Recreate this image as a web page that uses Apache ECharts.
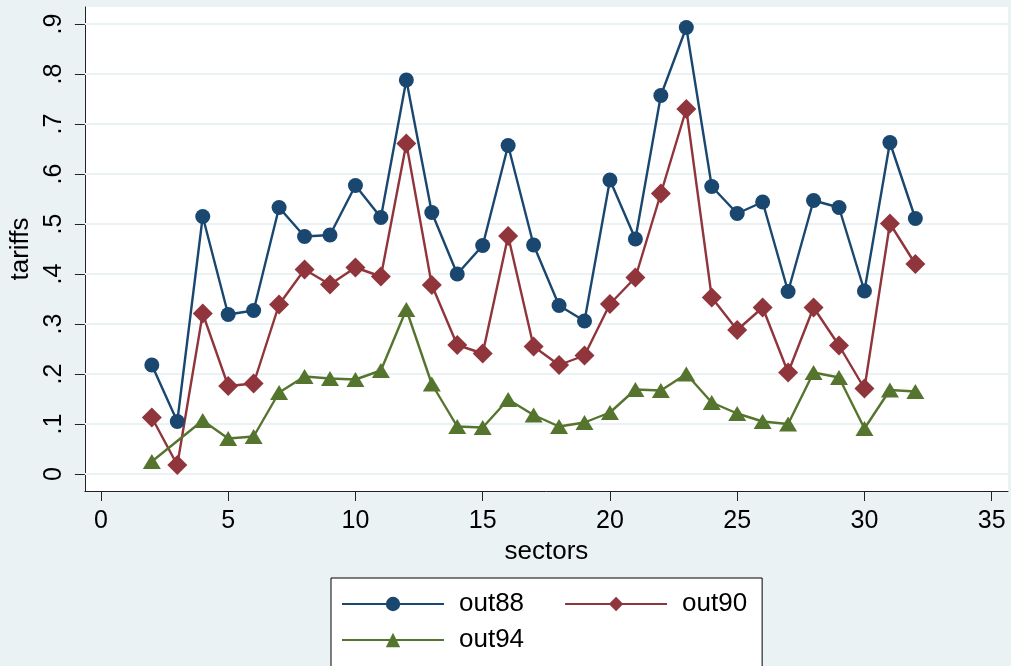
<!DOCTYPE html>
<html>
<head>
<meta charset="utf-8">
<script src="https://cdn.jsdelivr.net/npm/echarts@6/dist/echarts.min.js"></script>
<style>
html,body{margin:0;padding:0;background:#EAF2F3;}
#chart{width:1011px;height:666px;}
</style>
</head>
<body>
<div id="chart"></div>
<script>
const sectors = [2,3,4,5,6,7,8,9,10,11,12,13,14,15,16,17,18,19,20,21,22,23,24,25,26,27,28,29,30,31,32];
const out88 = [0.218,0.105,0.515,0.319,0.327,0.533,0.475,0.478,0.577,0.513,0.788,0.523,0.400,0.457,0.657,0.458,0.337,0.306,0.588,0.470,0.757,0.893,0.575,0.521,0.544,0.365,0.547,0.533,0.366,0.663,0.511];
const out90 = [0.113,0.018,0.321,0.176,0.181,0.339,0.409,0.379,0.413,0.395,0.661,0.378,0.258,0.241,0.476,0.255,0.218,0.237,0.340,0.393,0.561,0.730,0.353,0.288,0.333,0.203,0.333,0.257,0.171,0.501,0.420];
const out94 = [0.025,null,0.107,0.071,0.075,0.163,0.195,0.191,0.189,0.207,0.329,0.180,0.095,0.093,0.149,0.118,0.095,0.103,0.123,0.169,0.167,0.200,0.143,0.121,0.105,0.100,0.203,0.193,0.091,0.168,0.165];
const xTicks = [0,5,10,15,20,25,30,35];
const yTicks = [0,0.1,0.2,0.3,0.4,0.5,0.6,0.7,0.8,0.9];
const yTickLabels = ['0','.1','.2','.3','.4','.5','.6','.7','.8','.9'];

const pair = arr => sectors.map((s,i) => [s, arr[i]]);
const FONT = 'Liberation Sans, Arial, Helvetica, sans-serif';
const C88 = '#1A476F', C90 = '#90353B', C94 = '#55752F';

const chart = echarts.init(document.getElementById('chart'), null, {renderer:'canvas'});
chart.setOption({
  backgroundColor: '#EAF2F3',
  animation: false,
  textStyle: {fontFamily: FONT},
  grid: {left: 84, right: 3, top: 7, bottom: 175, show: true, backgroundColor: '#ffffff', borderWidth: 0},
  xAxis: {
    type: 'value', min: -0.63, max: 35.64,
    name: 'sectors', nameLocation: 'middle', nameGap: 46,
    nameTextStyle: {fontSize: 26, color: '#000', fontFamily: FONT},
    axisLine: {show: true, onZero: false, lineStyle: {color: '#222', width: 1}},
    axisTick: {show: true, customValues: xTicks, length: 10, lineStyle: {color: '#222', width: 1}},
    axisLabel: {customValues: xTicks, fontSize: 25, color: '#000', margin: 18, fontFamily: FONT},
    splitLine: {show: false}
  },
  yAxis: {
    type: 'value', min: -0.034, max: 0.934,
    name: 'tariffs', nameLocation: 'middle', nameGap: 46,
    nameTextStyle: {fontSize: 26, color: '#000', fontFamily: FONT},
    axisLine: {show: true, onZero: false, lineStyle: {color: '#222', width: 1}},
    axisTick: {show: true, customValues: yTicks, length: 10, lineStyle: {color: '#222', width: 1}},
    axisLabel: {customValues: yTicks, fontSize: 25, color: '#000', margin: 18, rotate: 90, fontFamily: FONT,
      formatter: v => { const i = yTicks.findIndex(t => Math.abs(t - v) < 1e-9); return i >= 0 ? yTickLabels[i] : ''; }},
    splitLine: {show: false}
  },
  legend: [
    {
      data: ['out88','out90'], left: 331, top: 578, orient: 'horizontal',
      padding: [13, 15, 80, 10], itemGap: 40, itemWidth: 102, itemHeight: 18,
      backgroundColor: '#ffffff', borderColor: '#000', borderWidth: 1, borderRadius: 0,
      textStyle: {fontSize: 26, color: '#000', fontFamily: FONT, padding: [0,0,0,10]}
    },
    {
      data: ['out94'], left: 331, top: 627, orient: 'horizontal',
      padding: [0, 0, 0, 10], itemWidth: 102, itemHeight: 18, z: 5,
      textStyle: {fontSize: 26, color: '#000', fontFamily: FONT, padding: [0,0,0,10]}
    }
  ],
  series: [
    {
      name: 'grid', type: 'line', data: [], z: 1, silent: true,
      markLine: {
        silent: true, symbol: 'none', label: {show: false}, z: 1,
        lineStyle: {color: '#EAF2F3', width: 2, type: 'solid'},
        data: yTicks.map(v => ({yAxis: v}))
      }
    },
    {
      name: 'out88', type: 'line', data: pair(out88), z: 3,
      symbol: 'circle', symbolSize: 15, showAllSymbol: true,
      lineStyle: {color: C88, width: 2.4}, itemStyle: {color: C88}
    },
    {
      name: 'out90', type: 'line', data: pair(out90), z: 3,
      symbol: 'diamond', symbolSize: 20, showAllSymbol: true,
      lineStyle: {color: C90, width: 2.4}, itemStyle: {color: C90}
    },
    {
      name: 'out94', type: 'line', data: pair(out94), z: 3, connectNulls: true,
      symbol: 'triangle', symbolSize: [18, 15], showAllSymbol: true,
      lineStyle: {color: C94, width: 2.4}, itemStyle: {color: C94}
    }
  ]
});
</script>
</body>
</html>
